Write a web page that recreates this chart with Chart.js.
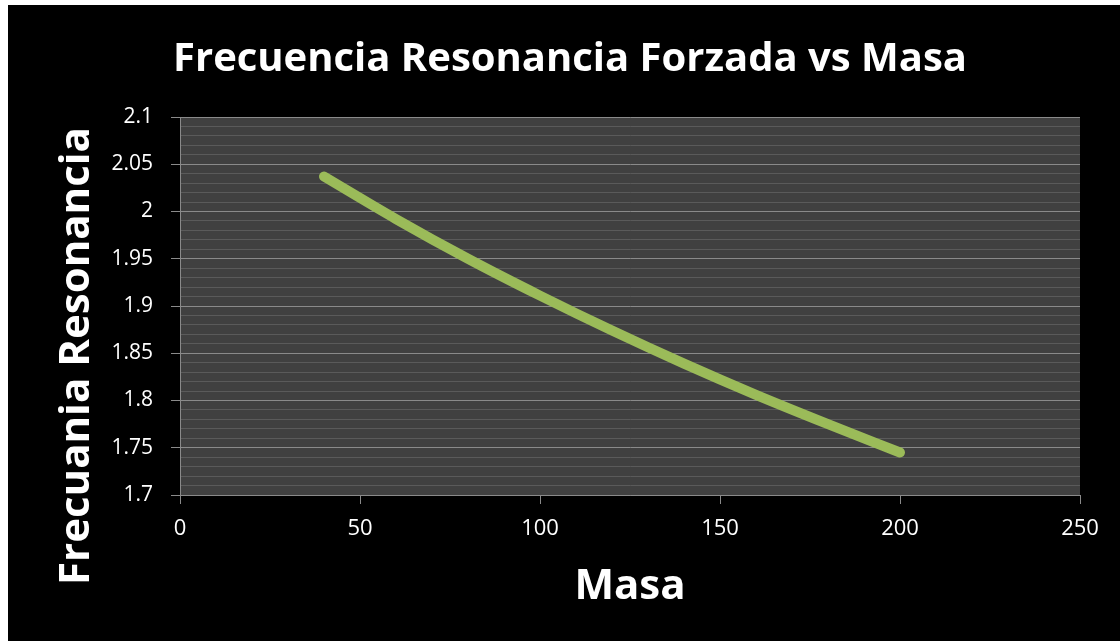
<!DOCTYPE html>
<html><head><meta charset="utf-8">
<script src="https://cdn.jsdelivr.net/npm/chart.js@4"></script>
<style>
html,body{margin:0;padding:0;background:#fff;}
#wrap{position:absolute;left:8px;top:5px;width:1112px;height:636px;background:#000;}
canvas{display:block;}
</style></head><body>
<div id="wrap"><canvas id="c" width="1112" height="636"></canvas></div>
<script>
const masa = [40, 60, 80, 100, 120, 140, 160, 180, 200];
const frecuencia = [2.037, 1.992, 1.950, 1.911, 1.874, 1.839, 1.806, 1.775, 1.745];
const xTickValues = [0, 50, 100, 150, 200, 250];
const yTickLabels = ['1.7', '1.75', '1.8', '1.85', '1.9', '1.95', '2', '2.05', '2.1'];
const titleText = 'Frecuencia Resonancia Forzada vs Masa';
const xTitle = 'Masa';
const yTitle = 'Frecuania Resonancia';

const FONT = "'Open Sans', 'DejaVu Sans', sans-serif";
const MAJOR = '#8a8a8a', MINOR = '#5a5a5a', PLOTBG = '#404040';

function isMajor(v) { return Math.round(v * 100) % 5 === 0; }

const deco = {
  id: 'deco',
  beforeDraw(chart) {
    const {ctx, chartArea: a} = chart;
    ctx.save();
    ctx.fillStyle = PLOTBG;
    ctx.fillRect(a.left, a.top, a.right - a.left, a.bottom - a.top);
    ctx.restore();
  },
  afterDraw(chart) {
    const {ctx, chartArea: a} = chart;
    ctx.save();
    ctx.fillStyle = '#fff';
    ctx.textAlign = 'center';
    ctx.textBaseline = 'alphabetic';
    ctx.font = "bold 40px " + FONT;
    ctx.fillText(titleText, 562, 66);
    ctx.font = "bold 42px " + FONT;
    ctx.fillText(xTitle, (a.left + a.right) / 2, 594);
    ctx.translate(81, 351);
    ctx.rotate(-Math.PI / 2);
    ctx.fillText(yTitle, 0, 0);
    ctx.restore();
  }
};

new Chart(document.getElementById('c'), {
  type: 'line',
  data: {
    datasets: [{
      data: masa.map((m, i) => ({x: m, y: frecuencia[i]})),
      borderColor: '#9bbb59',
      borderWidth: 10,
      borderCapStyle: 'round',
      borderJoinStyle: 'round',
      pointRadius: 0,
      tension: 0.4,
      cubicInterpolationMode: 'monotone',
      fill: false
    }]
  },
  options: {
    responsive: false,
    animation: false,
    devicePixelRatio: 1,
    layout: {padding: {top: 112, right: 40, left: 0, bottom: 0}},
    plugins: {legend: {display: false}, title: {display: false}, tooltip: {enabled: false}},
    scales: {
      x: {
        type: 'linear', min: 0, max: 250,
        afterBuildTicks(s) { s.ticks = xTickValues.map(v => ({value: v})); },
        ticks: {color: '#fff', font: {family: FONT, size: 22}, padding: 12, maxRotation: 0},
        grid: {drawOnChartArea: false, color: MAJOR, tickColor: MAJOR, tickLength: 9},
        border: {color: MAJOR},
        afterFit(s) { s.height = 146; }
      },
      y: {
        type: 'linear', min: 1.7, max: 2.1,
        ticks: {
          stepSize: 0.01, autoSkip: false,
          color: '#fff', font: {family: FONT, size: 21}, padding: 18,
          callback(v) {
            if (!isMajor(v)) return '';
            return yTickLabels[Math.round((v - 1.7) * 20)];
          }
        },
        grid: {
          color: c => (c.tick && isMajor(c.tick.value)) ? MAJOR : MINOR,
          tickColor: c => (c.tick && isMajor(c.tick.value)) ? MAJOR : 'rgba(0,0,0,0)',
          tickLength: 9
        },
        border: {color: MAJOR},
        afterFit(s) { s.width = 172; }
      }
    }
  },
  plugins: [deco]
});
</script>
</body></html>
